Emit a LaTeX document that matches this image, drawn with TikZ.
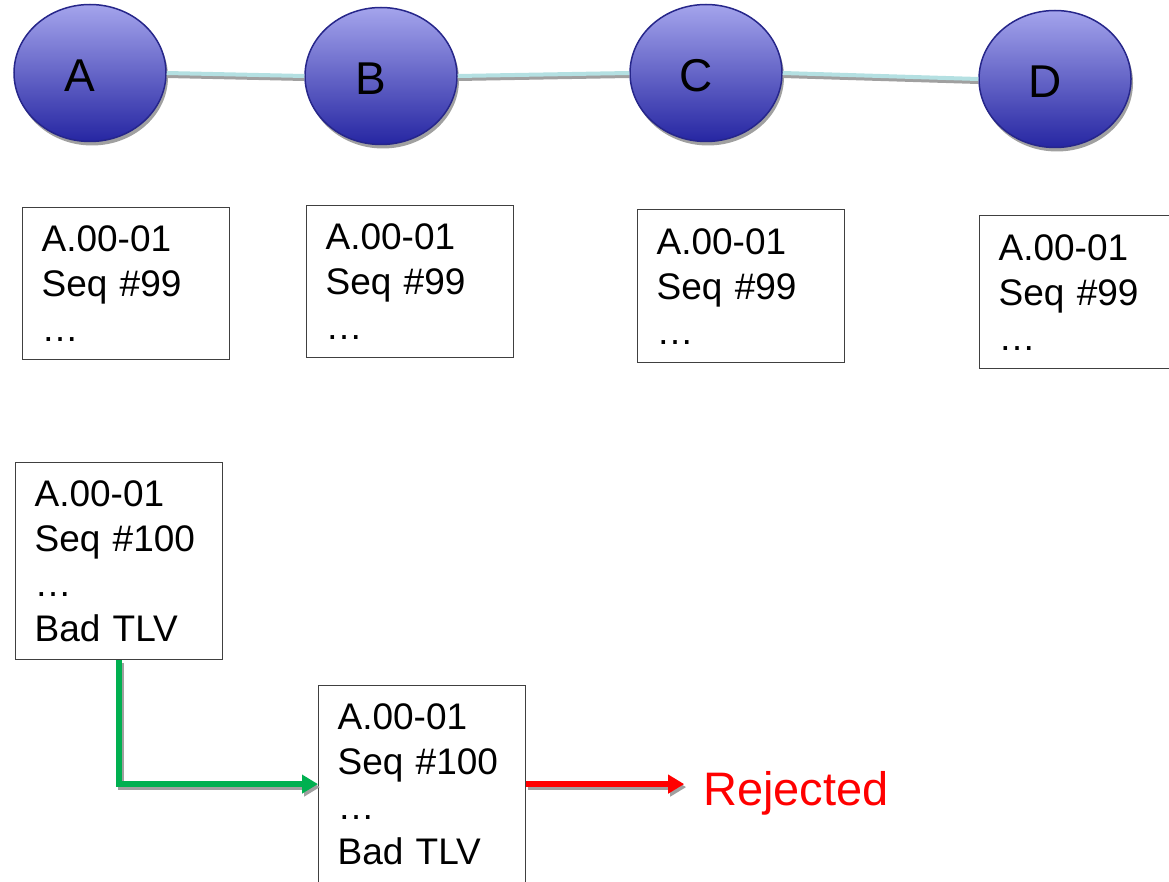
\documentclass[tikz,border=0pt]{standalone}
\usepackage{fontspec}
\setmainfont{Liberation Sans}
\usetikzlibrary{shapes.geometric,shadows,arrows.meta}
\definecolor{nodetop}{HTML}{A4A4EC}
\definecolor{nodebot}{HTML}{2626A2}
\definecolor{nodeline}{HTML}{26268A}
\definecolor{linkcyan}{HTML}{B4E0E2}
\definecolor{shadegray}{HTML}{A0A0A0}
\definecolor{okgreen}{HTML}{00B050}

\begin{document}
\begin{tikzpicture}[x=1pt,y=-1pt,
    router/.style={ellipse, draw=nodeline, line width=1.5pt, top color=nodetop, bottom color=nodebot,
      minimum width=152pt, minimum height=137pt,
      drop shadow={shadow xshift=2pt, shadow yshift=-4pt, fill=shadegray, opacity=1}},
    rname/.style={font=\fontsize{46}{50}\selectfont, xshift=-10pt, yshift=-3pt},
    lsp/.style={draw=black!75, line width=1.2pt, anchor=north west, align=left, text width=169pt,
      inner xsep=19pt, font=\fontsize{37}{45}\selectfont},
    link/.style={draw=linkcyan, line width=4pt},
    linkshade/.style={draw=shadegray, line width=4pt, transform canvas={yshift=-3pt}},
    flow/.style={line width=6.5pt, -{Triangle[length=16pt,width=18pt]}},
    flowshade/.style={flow, shadegray, transform canvas={xshift=2pt,yshift=-3pt}}]
    \useasboundingbox (0,0) rectangle (1169,882);
    \clip (0,0) rectangle (1169,882);

    % routers
    \node[router, label={[rname]center:A}] (A) at (90,73) {};
    \node[router, label={[rname]center:B}] (B) at (381,76) {};
    \node[router, label={[rname]center:C}] (C) at (706,73) {};
    \node[router, label={[rname]center:D}] (D) at (1055,79) {};
    \foreach \u/\v in {A/B,B/C,C/D}{
        \draw[linkshade] (\u.east) -- (\v.west);
        \draw[link] (\u.east) -- (\v.west);
    }

    % LSP copies held by each router
    \node[lsp, minimum height=152pt] (lspA) at (22,207) {A.00-01\\Seq \#99\\…};
    \node[lsp, minimum height=152pt] (lspB) at (306,205) {A.00-01\\Seq \#99\\…};
    \node[lsp, minimum height=153pt] (lspC) at (637,209) {A.00-01\\Seq \#99\\…};
    \node[lsp, minimum height=153pt] (lspD) at (979,215) {A.00-01\\Seq \#99\\…};

    % new LSP with the bad TLV
    \node[lsp, minimum height=197pt] (newA) at (15,462) {A.00-01\\Seq \#100\\…\\Bad TLV};
    \node[lsp, minimum height=197pt] (newB) at (318,685) {A.00-01\\Seq \#100\\…\\Bad TLV};
    \coordinate (rejtip) at ([xshift=158pt]newB.east);
    \draw[flowshade] (newA.south) |- (newB.west);
    \draw[flow, okgreen] (newA.south) |- (newB.west);
    \draw[flowshade] (newB.east) -- (rejtip);
    \draw[flow, red] (newB.east) -- (rejtip);
    \node[font=\fontsize{47}{50}\selectfont, text=red, inner sep=0pt, anchor=base west] (rej) at (703,805) {Rejected};
\end{tikzpicture}
\end{document}
